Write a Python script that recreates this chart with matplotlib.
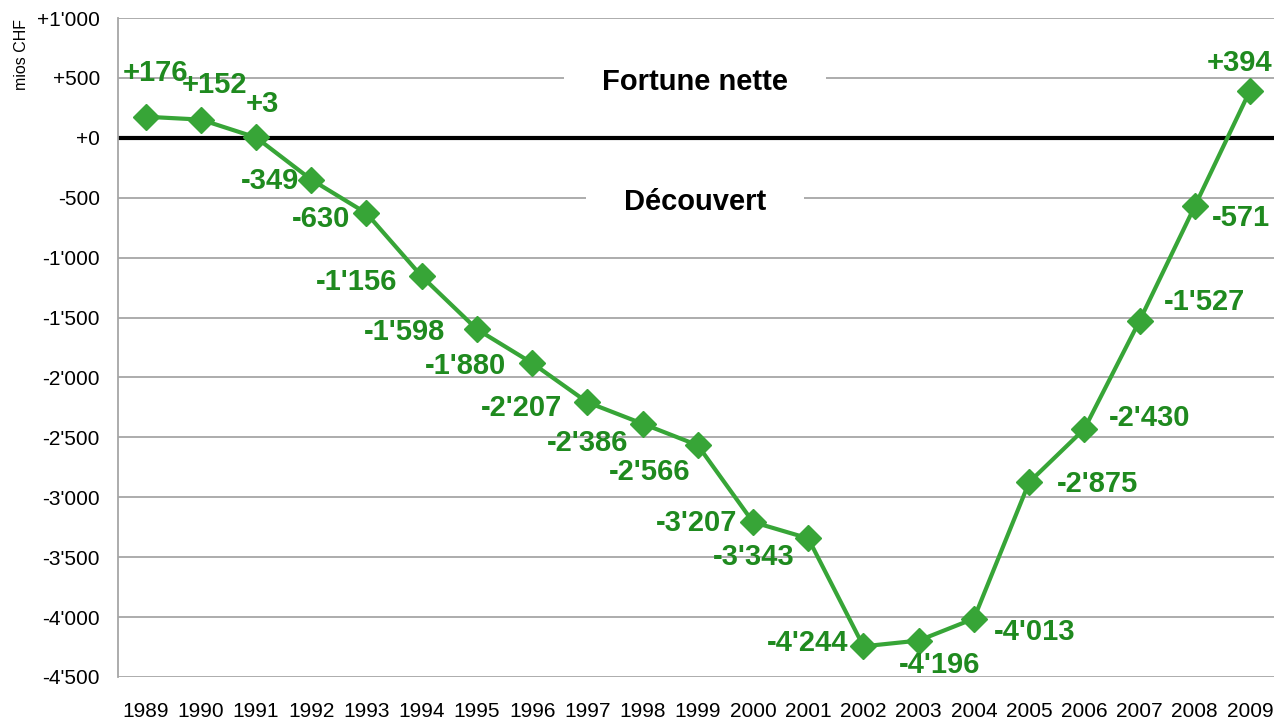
import matplotlib
matplotlib.use("Agg")
import matplotlib.pyplot as plt

plt.rcParams['font.family'] = ['Liberation Sans', 'DejaVu Sans']

years = [str(y) for y in range(1989, 2010)]
values = [176, 152, 3, -349, -630, -1156, -1598, -1880, -2207, -2386, -2566,
          -3207, -3343, -4244, -4196, -4013, -2875, -2430, -1527, -571, 394]
value_labels = ["+176", "+152", "+3", "-349", "-630", "-1'156", "-1'598", "-1'880",
                "-2'207", "-2'386", "-2'566", "-3'207", "-3'343", "-4'244", "-4'196",
                "-4'013", "-2'875", "-2'430", "-1'527", "-571", "+394"]
yticks = [1000, 500, 0, -500, -1000, -1500, -2000, -2500, -3000, -3500, -4000, -4500]
ytick_labels = ["+1'000", "+500", "+0", "-500", "-1'000", "-1'500", "-2'000", "-2'500",
                "-3'000", "-3'500", "-4'000", "-4'500"]
ylabel = "mios CHF"
zone_pos = "Fortune nette"
zone_neg = "Découvert"

# label offsets in pixels (dx, dy) relative to each point (screen coords, y down)
label_offsets = [(10, -44), (14, -35), (6, -33), (-41, 1), (-45, 6), (-65, 6), (-72, 3),
                 (-67, 3), (-66, 6), (-55, 19), (-48, 27), (-56, 1), (-55, 19), (-56, -3),
                 (21, 24), (61, 13), (68, 2), (65, -11), (65, -19), (46, 12), (-10, -28)]

W, H = 1274, 721
fig = plt.figure(figsize=(W / 100, H / 100), dpi=100)
left, right, top, bottom = 118, 1277.6, 18, 677
ax = fig.add_axes([left / W, 1 - bottom / H, (right - left) / W, (bottom - top) / H])

x = list(range(len(years)))
ax.set_xlim(-0.5, len(years) - 0.5)
ax.set_ylim(-4500, 1000)

grid_col = '#a6a6a6'
for t in yticks:
    if t == 0:
        continue
    ax.axhline(t, color=grid_col, lw=1.3, zorder=1)
ax.axhline(0, color='black', lw=3, zorder=2)

line_col = '#37a537'
lab_col = '#1f8a1f'
ax.plot(x, values, color=line_col, lw=3, marker='D', markersize=13,
        markerfacecolor=line_col, markeredgecolor=line_col, zorder=4, clip_on=False)

for xi, v, lab, (dx, dy) in zip(x, values, value_labels, label_offsets):
    ax.annotate(lab, (xi, v), xytext=(dx * 0.72, -dy * 0.72), textcoords='offset points',
                ha='center', va='center', fontsize=21, fontweight='bold', color=lab_col,
                zorder=5, annotation_clip=False)

zx = 10.0 - (1.0 / 55.25) * 3
for txt, yv in [(zone_pos, 500), (zone_neg, -500)]:
    ax.annotate(txt, (zx, yv), xytext=(0, -3), textcoords='offset points',
                ha='center', va='center', fontsize=21, fontweight='bold',
                color='black', zorder=3,
                bbox=dict(boxstyle='square,pad=1.3', fc='white', ec='none'))

ax.set_yticks(yticks)
ax.set_yticklabels(ytick_labels, fontsize=15)
ax.set_xticks(x)
ax.set_xticklabels(years, fontsize=15)
ax.tick_params(axis='both', length=0)
ax.tick_params(axis='y', pad=13)
ax.tick_params(axis='x', pad=18)

for s in ['top', 'right', 'bottom']:
    ax.spines[s].set_visible(False)
ax.spines['left'].set_color(grid_col)
ax.spines['left'].set_linewidth(1.3)

fig.text(22 / W, 1 - 54 / H, ylabel, rotation=90, ha='center', va='center', fontsize=11.5)

fig.savefig("out.png", dpi=100)
